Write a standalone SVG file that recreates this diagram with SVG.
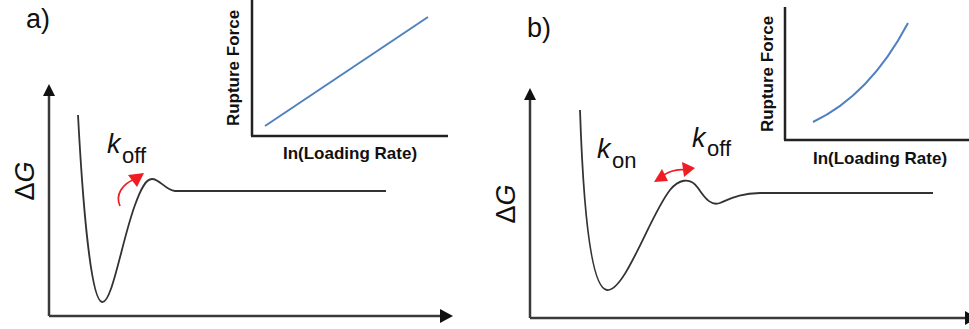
<svg xmlns="http://www.w3.org/2000/svg" width="969" height="329" viewBox="0 0 969 329">
<style>
.axis{stroke:#3a3a3a;stroke-width:2.5;fill:none}
.iaxis{stroke:#222;stroke-width:2.5;fill:none}
.curve{stroke:#333;stroke-width:1.8;fill:none}
.blue{stroke:#4f81c0;stroke-width:2;fill:none}
.red{stroke:#ee1c24;stroke-width:1.7;fill:none}
.head{fill:#111}
.rhead{fill:#ee1c24}
.lbl{font-family:"Liberation Sans",Arial,sans-serif;font-size:27px;fill:#111}
.dg{font-family:"Liberation Sans",Arial,sans-serif;font-size:27px;fill:#111}
.k{font-family:"Liberation Sans",Arial,sans-serif;font-size:27px;font-style:italic;fill:#111}
.sub{font-family:"Liberation Sans",Arial,sans-serif;font-size:22px;fill:#111}
.ins{font-family:"Liberation Sans",Arial,sans-serif;font-size:17px;font-weight:bold;fill:#111}
</style>
<rect width="969" height="329" fill="#fff"/>
<g id="panel-a">
  <text class="lbl" x="26" y="28">a)</text>
  <g id="a-axes">
    <line class="axis" x1="49" y1="94" x2="49" y2="316"/>
    <line class="axis" x1="49" y1="316" x2="442" y2="316"/>
    <polygon class="head" points="49,84 43,96 55,96"/>
    <polygon class="head" points="453,316 440,309 440,323"/>
  </g>
  <text class="dg" transform="translate(34,181) rotate(-90)" text-anchor="middle">Δ<tspan font-style="italic">G</tspan></text>
  <path id="a-curve" class="curve" d="M78,115 C82,190 90,300 102,302 C112,304 122,240 135,205 C141,188 146,179 152,179 C160,179 165,190 175,191 L386,191"/>
  <g id="a-arrow">
    <path class="red" d="M120,206 C115,195 122,184 135,179"/>
    <polygon class="rhead" points="144,173 128,175 137,187"/>
  </g>
  <text class="k" x="107" y="153">k</text>
  <text class="sub" x="122" y="163">off</text>
  <g id="a-inset">
    <line class="iaxis" x1="252" y1="0" x2="252" y2="136"/>
    <line class="iaxis" x1="251" y1="136" x2="448" y2="136"/>
    <line class="blue" x1="265" y1="126" x2="428" y2="17"/>
    <text class="ins" transform="translate(239,68) rotate(-90)" text-anchor="middle">Rupture Force</text>
    <text class="ins" x="350" y="159" text-anchor="middle">In(Loading Rate)</text>
  </g>
</g>
<g id="panel-b">
  <text class="lbl" x="527" y="37">b)</text>
  <g id="b-axes">
    <line class="axis" x1="530" y1="98" x2="530" y2="318"/>
    <line class="axis" x1="530" y1="318" x2="966" y2="318"/>
    <polygon class="head" points="530,88 524,100 536,100"/>
    <polygon class="head" points="977,318 965,311 965,325"/>
  </g>
  <text class="dg" transform="translate(515,204) rotate(-90)" text-anchor="middle">Δ<tspan font-style="italic">G</tspan></text>
  <path id="b-curve" class="curve" d="M580,110 C583,200 590,288 607,290 C625,292 650,215 670,190 C678,180 690,176 698,188 C706,200 712,206 720,203 C730,199 740,193 760,193 L933,193"/>
  <g id="b-arrow">
    <path class="red" d="M662,176 Q674,168 686,170"/>
    <polygon class="rhead" points="654,182 662,169 668,181"/>
    <polygon class="rhead" points="695,168 682,162 684,177"/>
  </g>
  <text class="k" x="597" y="158">k</text>
  <text class="sub" x="612" y="168">on</text>
  <text class="k" x="692" y="147">k</text>
  <text class="sub" x="707" y="156">off</text>
  <g id="b-inset">
    <line class="iaxis" x1="785" y1="7" x2="785" y2="140"/>
    <line class="iaxis" x1="784" y1="140" x2="969" y2="140"/>
    <path class="blue" d="M813,122 Q870,95 908,23"/>
    <text class="ins" transform="translate(773,74) rotate(-90)" text-anchor="middle">Rupture Force</text>
    <text class="ins" x="880" y="164" text-anchor="middle">In(Loading Rate)</text>
  </g>
</g>
</svg>
